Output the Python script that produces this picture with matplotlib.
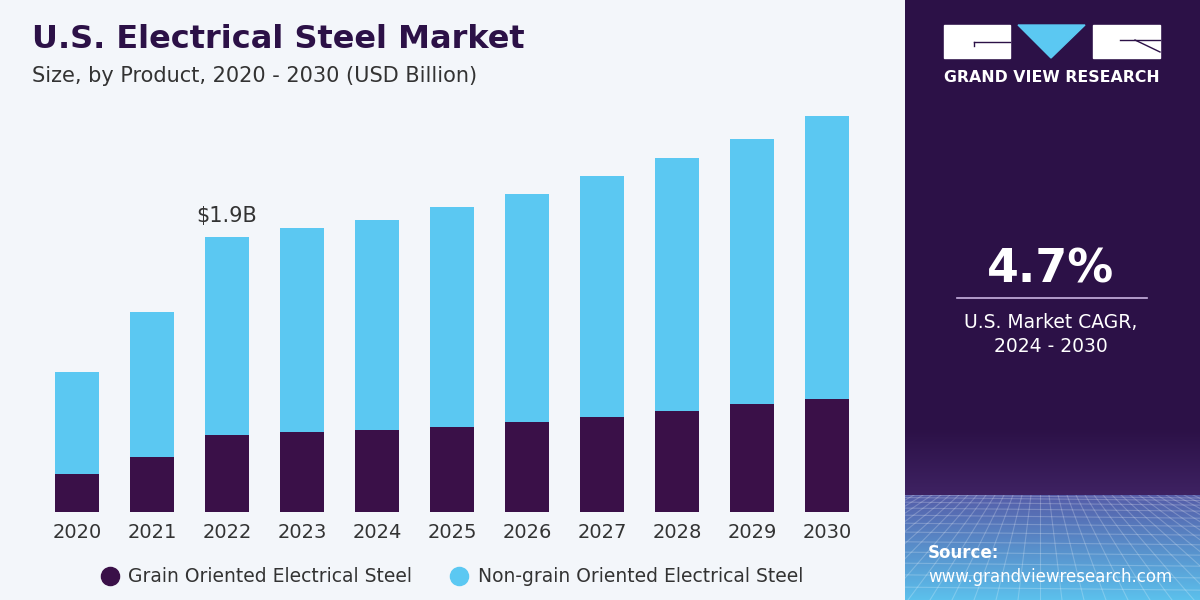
import numpy as np
import matplotlib.pyplot as plt
from matplotlib.patches import Rectangle, Polygon
from matplotlib.lines import Line2D

years = ['2020', '2021', '2022', '2023', '2024', '2025', '2026', '2027', '2028', '2029', '2030']
grain = [0.26, 0.38, 0.53, 0.55, 0.57, 0.59, 0.62, 0.66, 0.70, 0.75, 0.78]
non_grain = [0.71, 1.00, 1.37, 1.41, 1.45, 1.52, 1.58, 1.66, 1.75, 1.83, 1.96]
series_names = ['Grain Oriented Electrical Steel', 'Non-grain Oriented Electrical Steel']
callout_year = '2022'
callout_text = '$1.9B'

PURPLE = '#3a1048'
BLUE = '#5bc8f2'
BG = '#f3f6fa'
PANEL = '#2c1147'

plt.rcParams['font.family'] = ['DejaVu Sans']

fig = plt.figure(figsize=(12, 6), dpi=100)
fig.patch.set_facecolor(BG)

# background layer in pixel coords
bg = fig.add_axes([0, 0, 1, 1])
bg.set_xlim(0, 1200)
bg.set_ylim(600, 0)
bg.axis('off')

# right panel with gradient at the bottom
n = 600
grad = np.zeros((n, 1, 3))
top = np.array([0x2c, 0x11, 0x47]) / 255
hz = np.array([0x3e, 0x22, 0x62]) / 255
mid = np.array([0x55, 0x5c, 0xa8]) / 255
bot = np.array([0x5c, 0xc0, 0xec]) / 255
ys = np.linspace(0, 600, n)
for i, y in enumerate(ys):
    if y < 430:
        c = top
    elif y < 495:
        t = (y - 430) / 65
        c = top * (1 - t) + hz * t
    else:
        t = (y - 495) / 105
        c = mid * (1 - t) + bot * t
    grad[i, 0] = c
bg.imshow(grad, extent=[905, 1200, 600, 0], aspect='auto', zorder=1)

# mesh below the horizon
clip = Rectangle((905, 495), 295, 105, transform=bg.transData)
for k in range(12):
    yl = 495 + 105 * (k / 12) ** 1.5
    ln = Line2D([905, 1200], [yl, yl + 3], color='white', alpha=0.22, lw=0.8, zorder=2)
    bg.add_line(ln)
    ln.set_clip_path(clip)
for k in range(-25, 40):
    ln = Line2D([1040 + k * 9, 1040 + k * 22], [495, 600], color='white', alpha=0.22, lw=0.8, zorder=2)
    bg.add_line(ln)
    ln.set_clip_path(clip)

# logo
bg.add_patch(Rectangle((944, 25), 66, 33, color='white', zorder=3))
bg.add_patch(Rectangle((1093, 25), 67, 33, color='white', zorder=3))
bg.add_patch(Polygon([(1018, 25), (1085, 25), (1051, 58)], color=BLUE, zorder=3))
bg.plot([974, 1010], [42, 42], color=PANEL, lw=1, zorder=4)
bg.plot([974, 974], [42, 46], color=PANEL, lw=1, zorder=4)
bg.plot([1120, 1160], [40, 40], color=PANEL, lw=1, zorder=4)
bg.plot([1135, 1160], [40, 52], color=PANEL, lw=1, zorder=4)
bg.text(1052, 78, 'GRAND VIEW RESEARCH', color='white', fontsize=11.3, fontweight='bold',
        ha='center', va='center', zorder=4)

# CAGR block
bg.text(1051, 270, '4.7%', color='white', fontsize=33, fontweight='bold',
        ha='center', va='center', zorder=4)
bg.plot([957, 1147], [298, 298], color='#c9b3e0', lw=1.2, zorder=4)
bg.text(1051, 322, 'U.S. Market CAGR,', color='white', fontsize=13.5,
        ha='center', va='center', zorder=4)
bg.text(1051, 347, '2024 - 2030', color='white', fontsize=13.5,
        ha='center', va='center', zorder=4)

# source
bg.text(928, 553, 'Source:', color='white', fontsize=12, fontweight='bold',
        ha='left', va='center', zorder=4)
bg.text(928, 577, 'www.grandviewresearch.com', color='white', fontsize=12,
        ha='left', va='center', zorder=4)

# titles
bg.text(32, 40, 'U.S. Electrical Steel Market', color='#2c1147', fontsize=23,
        fontweight='heavy', ha='left', va='center', zorder=4)
bg.text(32, 76, 'Size, by Product, 2020 - 2030 (USD Billion)', color='#333333',
        fontsize=15, ha='left', va='center', zorder=4)

# legend
bg.scatter([110], [576], s=170, color=PURPLE, zorder=4)
bg.text(128, 576, series_names[0], color='#333333', fontsize=13.5, ha='left', va='center', zorder=4)
bg.scatter([459], [576], s=170, color=BLUE, zorder=4)
bg.text(478, 576, series_names[1], color='#333333', fontsize=13.5, ha='left', va='center', zorder=4)

# main chart
ax = fig.add_axes([32 / 1200, 88 / 600, 840 / 1200, 434 / 600])
ax.patch.set_alpha(0)
x = np.arange(len(years))
ax.bar(x, grain, width=0.59, color=PURPLE, zorder=3)
ax.bar(x, non_grain, width=0.59, bottom=grain, color=BLUE, zorder=3)
ax.set_xlim(-0.6, 10.6)
ax.set_ylim(0, 3.0)
ax.set_xticks(x)
ax.set_xticklabels(years, fontsize=14, color='#333333')
ax.tick_params(axis='x', length=0, pad=8)
ax.set_yticks([])
for s in ax.spines.values():
    s.set_visible(False)

i = years.index(callout_year)
ax.text(x[i], grain[i] + non_grain[i] + 0.08, callout_text, ha='center', va='bottom',
        fontsize=15, color='#333333')

fig.savefig('out.png', dpi=100, facecolor=fig.get_facecolor())
